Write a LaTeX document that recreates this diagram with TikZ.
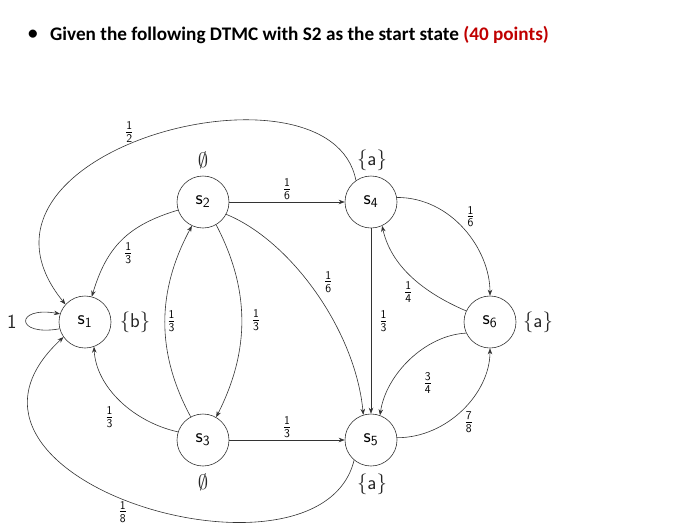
\documentclass[tikz,border=0pt]{standalone}
\usepackage{fontspec}
\usepackage{amssymb}
\usetikzlibrary{arrows.meta}
\newfontfamily\titlefont{Carlito}
\definecolor{edgegray}{HTML}{333333}
\definecolor{pointsred}{HTML}{C00000}
\newcommand{\nodefont}{\fontsize{20}{22}\selectfont\sffamily}
\newcommand{\probfont}{\fontsize{17}{19}\selectfont\sffamily}
\newcommand{\fr}[2]{$\frac{\mathsf{#1}}{\mathsf{#2}}$}
\newcommand{\st}[1]{$\mathsf{s}_{\mathsf{#1}}$}
\tikzset{
  state/.style={draw=edgegray, line width=0.6pt, circle, minimum size=52pt, inner sep=0pt, font=\nodefont},
  prob/.style={font=\probfont, inner sep=2pt},
  tag/.style={font=\nodefont, text=black!85},
  arrow/.style={->, >={Stealth[length=6pt,width=4.5pt]}, draw=edgegray, line width=0.6pt}
}

\begin{document}
\begin{tikzpicture}[x=1pt,y=-1pt]
  \useasboundingbox (0,0) rectangle (675,531);
  \node[font=\titlefont\fontsize{19.2}{22}\selectfont\bfseries] (bullet) at (33,35) {•};
  \node[anchor=west, inner sep=0pt, font=\titlefont\fontsize{19.2}{22}\selectfont\bfseries] (title) at (50,35)
    {Given the following DTMC with S2 as the start state \textcolor{pointsred}{(40 points)}};

  \node[state] (s1) at (85,322) {\st1};
  \node[state] (s2) at (203,202) {\st2};
  \node[state] (s3) at (203,440) {\st3};
  \node[state] (s4) at (371,202) {\st4};
  \node[state] (s5) at (371,440) {\st5};
  \node[state] (s6) at (490,322) {\st6};

  \node[tag] (l1) at (135,322) {$\{\mathsf{b}\}$};
  \node[tag] (l2) at (203,160) {$\emptyset$};
  \node[tag] (l3) at (203,482) {$\emptyset$};
  \node[tag] (l4) at (372,160) {$\{\mathsf{a}\}$};
  \node[tag] (l5) at (372,484) {$\{\mathsf{a}\}$};
  \node[tag] (l6) at (538,322) {$\{\mathsf{a}\}$};

  \draw[arrow] (s1.195) .. controls +(-45,8) and +(-45,-8) .. node[tag, left=6pt] {1} (s1.162);
  \draw[arrow] (s2) -- node[prob, above] {\fr16} (s4);
  \draw[arrow] (s3) -- node[prob, above] {\fr13} (s5);
  \draw[arrow] (s4) -- node[prob, right=6pt] {\fr13} (s5);
  \draw[arrow] (s4.125) .. controls +(-25,-131) and +(-126,-155) .. node[prob, pos=0.55, above] {\fr12} (s1.138);
  \draw[arrow] (s2.198) .. controls +(-50,15) and +(15,-50) .. node[prob, below right] {\fr13} (s1.75);
  \draw[arrow] (s2.300) .. controls +(34,65) and +(34,-67) .. node[prob, right=8pt] {\fr13} (s3.60);
  \draw[arrow] (s3.118) .. controls +(-35,-65) and +(-35,65) .. node[prob, right] {\fr13} (s2.245);
  \draw[arrow] (s2.332) .. controls +(64,26) and +(-8,-85) .. node[prob, pos=0.45, right=14pt] {\fr16} (s5.107);
  \draw[arrow] (s4.10) .. controls +(55,0) and +(0,-46) .. node[prob, above right] {\fr16} (s6.90);
  \draw[arrow] (s6.155) .. controls +(-35,-15) and +(10,45) .. node[prob, below left] {\fr14} (s4.295);
  \draw[arrow] (s6.205) .. controls +(-41,2) and +(6,-41) .. node[prob, pos=0.55, below right=6pt, xshift=10pt] {\fr34} (s5.70);
  \draw[arrow] (s5.5) .. controls +(50,0) and +(0,45) .. node[prob, below right] {\fr78} (s6.270);
  \draw[arrow] (s3.162) .. controls +(-45,-10) and +(2,40) .. node[prob, below left=4pt] {\fr13} (s1.290);
  \draw[arrow] (s5.230) .. controls +(-34,140) and +(-154,143) .. node[prob, pos=0.53, below] {\fr18} (s1.215);
\end{tikzpicture}
\end{document}
